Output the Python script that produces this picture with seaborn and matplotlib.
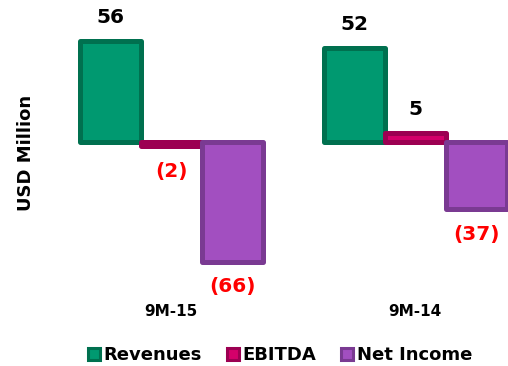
import pandas as pd
import matplotlib.pyplot as plt
import seaborn as sns
from matplotlib.patches import Patch

periods = ["9M-15", "9M-14"]
metrics = ["Revenues", "EBITDA", "Net Income"]
revenues = [56, 52]
ebitda = [-2, 5]
net_income = [-66, -37]

face_colors = {"Revenues": "#009970", "EBITDA": "#d4006a", "Net Income": "#a24fc0"}
edge_colors = {"Revenues": "#00704f", "EBITDA": "#9c0052", "Net Income": "#7a3a92"}

df = pd.DataFrame({
    "period": periods * 3,
    "metric": [m for m in metrics for _ in periods],
    "value": revenues + ebitda + net_income,
})

sns.set_style("white")
plt.rcParams["font.family"] = ["DejaVu Sans"]
plt.rcParams["font.weight"] = "bold"
plt.rcParams["text.color"] = "black"
plt.rcParams["axes.labelcolor"] = "black"
plt.rcParams["xtick.color"] = "black"

fig = plt.figure(figsize=(5.08, 3.66), dpi=100)
ax = fig.add_axes([60 / 508, 66 / 366, 448 / 508, 300 / 366])

sns.barplot(data=df, x="period", y="value", hue="metric", order=periods,
            hue_order=metrics, palette=face_colors, width=0.75, ax=ax,
            legend=False, saturation=1)

for metric, cont in zip(metrics, ax.containers):
    for bar in cont:
        bar.set_edgecolor(edge_colors[metric])
        bar.set_linewidth(3.6)
        bar.set_joinstyle("round")
    for bar, v in zip(cont, cont.datavalues):
        lab = f"{v:.0f}" if v >= 0 else f"({abs(v):.0f})"
        x = bar.get_x() + bar.get_width() / 2
        off = 17 if v >= 0 else -18
        ax.annotate(lab, (x, v), xytext=(0, off), textcoords="offset points",
                    ha="center", va="center", fontsize=14.5, fontweight="bold",
                    color="black" if v >= 0 else "#ff0000")

ax.set_xlim(-0.455, 1.381)
ax.set_ylim(-87, 78.7)
ax.set_yticks([])
ax.set_xlabel("")
ax.set_ylabel("USD Million", fontsize=13, fontweight="bold", color="black")
ax.yaxis.set_label_coords(-0.056, 0.49)
ax.tick_params(axis="x", length=0, pad=3, labelsize=11, labelcolor="black")
for t in ax.get_xticklabels():
    t.set_fontweight("bold")
sns.despine(ax=ax, left=True, bottom=True)

handles = [Patch(facecolor=face_colors[m], edgecolor=edge_colors[m], linewidth=2.2, label=m)
           for m in metrics]
fig.legend(handles=handles, loc="center", bbox_to_anchor=(0.551, 0.03), ncol=3,
           frameon=False, handlelength=0.65, handleheight=0.65, handletextpad=0.2,
           columnspacing=1.4, labelcolor="black", prop={"size": 13, "weight": "bold"})

fig.savefig("out.png", dpi=100)
